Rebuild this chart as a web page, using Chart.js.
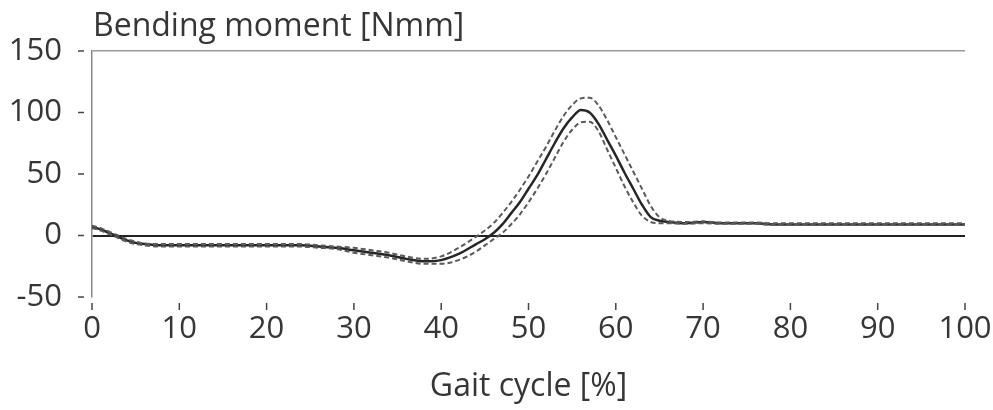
<!DOCTYPE html>
<html>
<head>
<meta charset="utf-8">
<script src="https://cdn.jsdelivr.net/npm/chart.js@4.4.0/dist/chart.umd.min.js"></script>
<style>
  html, body { margin: 0; padding: 0; background: #fff; }
  #wrap { width: 993px; height: 410px; }
</style>
</head>
<body>
<div id="wrap"><canvas id="bending_chart"></canvas></div>
<script>
// gait cycle positions [%]
var gait = [0,1,2,3,4,5,6,8,10,12,14,16,18,20,22,24,26,28,30,32,34,36,38,40,42,44,45,46,47,48,49,50,
  51,52,53,54,55,56,57,58,59,60,61,62,63,64,65,66,68,70,72,74,76,78,80,82,84,86,88,90,92,94,96,98,100];

// mean bending moment [Nmm]
var mean = [7,5,2,-1,-4,-6,-7,-8,-8,-8,-8,-8,-8,-8,-8,-8,-9,-10,-12,-14,-16,-19,-21,-20,-15,-7,-3,2,9,18,27,38,
  49,62,75,87,96,102,100,91,78,65,51,38,25,15,12,11,10,11,10,10,10,9,9,9,9,9,9,9,9,9,9,9,9];

// mean + sd
var upper = [8,6,3,0,-3,-5,-6.5,-7,-7,-7,-7,-7,-7,-7,-7,-7,-8,-9,-10,-12,-14,-17,-19,-17,-10,-1,4,10,18,27,37,48,
  60,72,85,97,106,111.5,112,106,94,80,66,52,38,24,15,12,11,11.5,10.5,10.5,10.5,10,10,10,10,10,10,10,10,10,10,10,10];

// mean - sd
var lower = [6,4,1,-2,-5,-7,-8,-9,-9,-9,-9,-9,-9,-9,-9,-9,-10,-11,-14,-16,-18,-21,-23,-23,-20,-13,-8,-3,2,9,17,27,
  38,50,63,76,86,92,92.5,85,70,55,40,27,16,11,10,10,9.5,10,9.5,9.5,9.5,8.5,8.5,8.5,8.5,8.5,8.5,8.5,8.5,8.5,8.5,8.5,8.5];

var yTicks = [-50, 0, 50, 100, 150];
var xTicks = [0,10,20,30,40,50,60,70,80,90,100];

var yTitle = "Bending moment [Nmm]";
var xTitle = "Gait cycle [%]";

function pts(arr) {
  return gait.map(function (g, i) { return { x: g, y: arr[i] }; });
}

var fontFam = "'Open Sans', 'Noto Sans', sans-serif";
var fontSize = 31;
var txtColor = "#363636";

// small tick dashes detached from the axes, plus the y axis title
var tickMarks = {
  id: "tickMarks",
  afterDraw: function (chart) {
    var ctx = chart.ctx, a = chart.chartArea;
    var ys = chart.scales.y, xs = chart.scales.x;
    ctx.save();
    ctx.strokeStyle = "#444";
    ctx.lineWidth = 1.5;
    yTicks.forEach(function (v) {
      var p = ys.getPixelForValue(v);
      ctx.beginPath(); ctx.moveTo(a.left - 14, p); ctx.lineTo(a.left - 8, p); ctx.stroke();
    });
    xTicks.forEach(function (v) {
      var p = xs.getPixelForValue(v);
      ctx.beginPath(); ctx.moveTo(p, a.bottom + 6); ctx.lineTo(p, a.bottom + 13); ctx.stroke();
    });
    ctx.fillStyle = txtColor;
    ctx.font = "32px " + fontFam;
    ctx.textAlign = "left";
    ctx.textBaseline = "middle";
    ctx.fillText(yTitle, a.left + 1, 27);
    ctx.restore();
  }
};

var config = {
  type: "line",
  data: {
    datasets: [
      { data: pts(upper), borderColor: "#5a5a5a", borderWidth: 2, borderDash: [5, 3], fill: false, pointRadius: 0, cubicInterpolationMode: "monotone" },
      { data: pts(lower), borderColor: "#5a5a5a", borderWidth: 2, borderDash: [5, 3], fill: false, pointRadius: 0, cubicInterpolationMode: "monotone" },
      { data: pts(mean), borderColor: "#262626", borderWidth: 2.5, fill: false, pointRadius: 0, cubicInterpolationMode: "monotone" }
    ]
  },
  options: {
    responsive: true,
    maintainAspectRatio: false,
    animation: false,
    layout: { padding: { top: 51, right: 28, left: 0, bottom: 0 } },
    plugins: { legend: { display: false }, title: { display: false }, tooltip: { enabled: false } },
    scales: {
      x: {
        type: "linear",
        min: 0, max: 100,
        afterFit: function (s) { s.height = 113; s.paddingRight = 0; s.paddingLeft = 0; },
        afterBuildTicks: function (s) { s.ticks = xTicks.map(function (v) { return { value: v }; }); },
        grid: { display: false, drawTicks: false },
        border: { display: false },
        ticks: { padding: 14, color: txtColor, font: { size: fontSize, family: fontFam }, maxRotation: 0 },
        title: { display: true, text: xTitle, color: txtColor, font: { size: 32, family: fontFam }, padding: { top: 0 } }
      },
      y: {
        min: -50, max: 150,
        afterFit: function (s) { s.width = 92; },
        afterBuildTicks: function (s) { s.ticks = yTicks.map(function (v) { return { value: v }; }); },
        grid: {
          drawTicks: false,
          lineWidth: function (c) { return c.tick && c.tick.value === 0 ? 2 : 1.5; },
          color: function (c) {
            if (!c.tick) return "rgba(0,0,0,0)";
            if (c.tick.value === 0) return "#222";
            if (c.tick.value === 150) return "#999";
            return "rgba(0,0,0,0)";
          }
        },
        border: { display: true, color: "#888", width: 1.5 },
        ticks: { padding: 30, color: txtColor, font: { size: fontSize, family: fontFam } }
      }
    }
  },
  plugins: [tickMarks]
};

var bending_chart = new Chart("bending_chart", config);
</script>
</body>
</html>
